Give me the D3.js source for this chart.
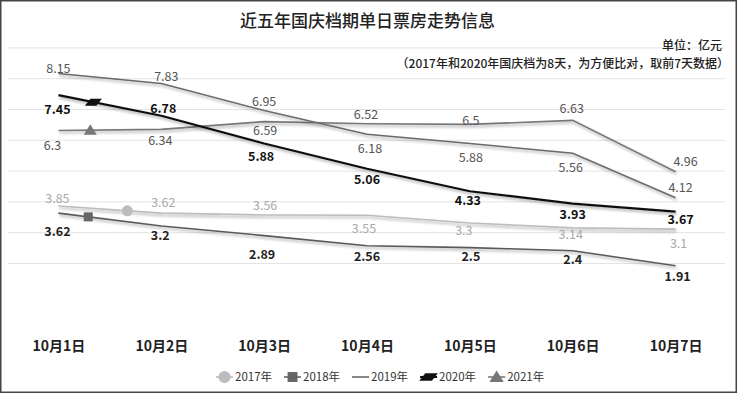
<!DOCTYPE html>
<html>
<head>
<meta charset="utf-8">
<script src="https://cdn.jsdelivr.net/npm/d3@7/dist/d3.min.js"></script>
<style>
  body { margin: 0; background: #fff; }
  text { font-family: "Noto Sans CJK SC", "Noto Sans", sans-serif; }
</style>
</head>
<body>
<div id="chart"></div>
<script>
// categories and series values (亿元)
const days = ["10月1日", "10月2日", "10月3日", "10月4日", "10月5日", "10月6日", "10月7日"];
const v2017 = [3.85, 3.62, 3.56, 3.55, 3.3, 3.14, 3.1];
const v2018 = [3.62, 3.2, 2.89, 2.56, 2.5, 2.4, 1.91];
const v2019 = [8.15, 7.83, 6.95, 6.18, 5.88, 5.56, 4.12];
const v2020 = [7.45, 6.78, 5.88, 5.06, 4.33, 3.93, 3.67];
const v2021 = [6.3, 6.34, 6.59, 6.52, 6.5, 6.63, 4.96];
const yearNames = ["2017年", "2018年", "2019年", "2020年", "2021年"];
const gridTicks = [2, 3, 4, 5, 6, 7, 8, 9];

let width = 737,
    height = 393;

// per-series look; label offsets are [dx, dy] from the point
const series = [
  { name: yearNames[0], values: v2017, color: "#bdbdbd", width: 1.6, label: "#a9a9a9", bold: false, marker: "circle", t: 0.67,
    off: [[-1,-7],[2,-10],[1,-9],[-3,13],[-6,7.5],[-2,7],[3,15]] },
  { name: yearNames[1], values: v2018, color: "#5a5a5a", width: 1.6, label: "#222", bold: true, marker: "square", t: 0.29,
    off: [[-1,18.5],[-1,10],[-2,19],[0,11],[1,9],[0,9],[2,11]] },
  { name: yearNames[2], values: v2019, color: "#6a6a6a", width: 1.5, label: "#555", bold: false, marker: null, t: 0,
    off: [[0,-5],[5,-7],[0,-9],[3,14],[1,14.5],[-2,14.5],[5,-10.5]] },
  { name: yearNames[3], values: v2020, color: "#111", width: 2.2, label: "#111", bold: true, marker: "para", t: 0.34,
    off: [[-1,14],[2,-7],[-3,13],[0,11],[-2,9],[0,11],[5,8]] },
  { name: yearNames[4], values: v2021, color: "#777", width: 1.6, label: "#555", bold: false, marker: "triangle", t: 0.31,
    off: [[-6,15],[-1,11],[1,9],[-1,-9],[1,-4],[-1,-12],[10,-10]] }
];

let svg = d3.select("#chart")
    .append("svg")
    .attr("width", width)
    .attr("height", height);

// soft shadow under the lines
let defs = svg.append("defs");
let f = defs.append("filter").attr("id", "shadow")
    .attr("x", "-5%").attr("y", "-30%").attr("width", "110%").attr("height", "160%");
f.append("feGaussianBlur").attr("in", "SourceAlpha").attr("stdDeviation", 1.8).attr("result", "blur");
f.append("feOffset").attr("in", "blur").attr("dx", 1).attr("dy", 2).attr("result", "off");
f.append("feComponentTransfer").attr("in", "off").attr("result", "soft")
    .append("feFuncA").attr("type", "linear").attr("slope", 0.35);
let merge = f.append("feMerge");
merge.append("feMergeNode").attr("in", "soft");
merge.append("feMergeNode").attr("in", "SourceGraphic");

svg.append("rect")
    .attr("x", 0.75).attr("y", 0.75)
    .attr("width", width - 1.5).attr("height", height - 1.5)
    .attr("fill", "none").attr("stroke", "#444").attr("stroke-width", 1.5);

let x = d3.scalePoint()
    .domain(days)
    .range([7, 727])
    .padding(0.5);

let y = d3.scaleLinear()
    .domain([0, 9])
    .range([324.6, 47.4]);

// gridlines
svg.append("g")
    .attr("transform", "translate(8, 0)")
    .call(d3.axisLeft(y).tickValues(gridTicks).tickSize(-717).tickFormat(""))
    .call(g => g.select(".domain").remove())
    .call(g => g.selectAll("line").attr("stroke", "#e4e4e4").attr("stroke-width", 1));

// category axis
svg.append("g")
    .attr("transform", `translate(0, ${y(0)})`)
    .call(d3.axisBottom(x).tickSize(0))
    .call(g => g.select(".domain").remove())
    .call(g => g.selectAll("text")
        .attr("y", 21.5).attr("dy", "0.35em")
        .style("font-size", "14px").style("font-weight", "bold")
        .attr("fill", "#222"));

// title and notes
svg.append("text")
    .attr("x", 367.5).attr("y", 21).attr("dy", "0.35em")
    .attr("text-anchor", "middle")
    .style("font-size", "17px").style("font-weight", 500)
    .attr("fill", "#222")
    .text("近五年国庆档期单日票房走势信息");

svg.append("text")
    .attr("x", 722).attr("y", 46).attr("dy", "0.35em")
    .attr("text-anchor", "end")
    .style("font-size", "12px").style("font-weight", 500)
    .attr("fill", "#222")
    .text("单位：亿元");

svg.append("text")
    .attr("x", 729).attr("y", 64).attr("dy", "0.35em")
    .attr("text-anchor", "end")
    .style("font-size", "12px").style("font-weight", 500)
    .attr("fill", "#222")
    .text("（2017年和2020年国庆档为8天，为方便比对，取前7天数据）");

let line = d3.line()
    .x((d, i) => x(days[i]))
    .y(d => y(d));

function drawMarker(g, type, color, cx, cy, big) {
  let s = big ? 1.1 : 1;
  if (type === "circle") {
    g.append("circle").attr("cx", cx).attr("cy", cy).attr("r", 5.5 * s).attr("fill", color);
  } else if (type === "square") {
    g.append("rect").attr("x", cx - 4.5 * s).attr("y", cy - 4.5 * s)
        .attr("width", 9 * s).attr("height", 9 * s).attr("fill", color);
  } else if (type === "triangle") {
    g.append("path")
        .attr("d", `M${cx},${cy - 6 * s}L${cx + 6.5 * s},${cy + 4.5 * s}L${cx - 6.5 * s},${cy + 4.5 * s}Z`)
        .attr("fill", color);
  } else if (type === "para") {
    g.append("path")
        .attr("d", `M${cx - 8.5 * s},${cy + 3.5 * s}L${cx - 3 * s},${cy - 3.5 * s}L${cx + 8.5 * s},${cy - 3.5 * s}L${cx + 3 * s},${cy + 3.5 * s}Z`)
        .attr("fill", color);
  }
}

const markerColors = { circle: "#bcbcbc", square: "#666", triangle: "#777", para: "#111" };

// draw order: light lines first, 2020 on top
[0, 1, 4, 2, 3].forEach(k => {
  let s = series[k];
  let g = svg.append("g");
  g.append("path")
      .datum(s.values)
      .attr("d", line)
      .attr("fill", "none")
      .attr("stroke", s.color)
      .attr("stroke-width", s.width)
      .attr("filter", "url(#shadow)");

  if (s.marker) {
    // marker sits along the first segment
    let cx = x(days[0]) + s.t * (x(days[1]) - x(days[0]));
    let cy = y(s.values[0]) + s.t * (y(s.values[1]) - y(s.values[0]));
    drawMarker(g, s.marker, markerColors[s.marker], cx, cy, false);
  }
});

// data labels
series.forEach(s => {
  svg.append("g").selectAll("text")
      .data(s.values)
      .enter()
      .append("text")
      .attr("x", (d, i) => x(days[i]) + s.off[i][0])
      .attr("y", (d, i) => y(d) + s.off[i][1])
      .attr("dy", "0.35em")
      .attr("text-anchor", "middle")
      .style("font-size", "12.5px")
      .style("font-weight", s.bold ? "bold" : "normal")
      .attr("fill", s.label)
      .text(d => d);
});

// legend
let legend = svg.append("g").attr("transform", "translate(0, 377)");
let lx = 216;
series.forEach(s => {
  let item = legend.append("g");
  item.append("line")
      .attr("x1", lx).attr("x2", lx + 17)
      .attr("y1", 0).attr("y2", 0)
      .attr("stroke", s.marker ? markerColors[s.marker] : s.color)
      .attr("stroke-width", s.marker === "para" ? 2 : 1.6);
  if (s.marker) drawMarker(item, s.marker, markerColors[s.marker], lx + 8.5, 0, true);
  let t = item.append("text")
      .attr("x", lx + 19).attr("y", 0).attr("dy", "0.35em")
      .style("font-size", "11.5px")
      .attr("fill", "#333")
      .text(s.name);
  lx += 19 + t.node().getComputedTextLength() + 12;
});
</script>
</body>
</html>
